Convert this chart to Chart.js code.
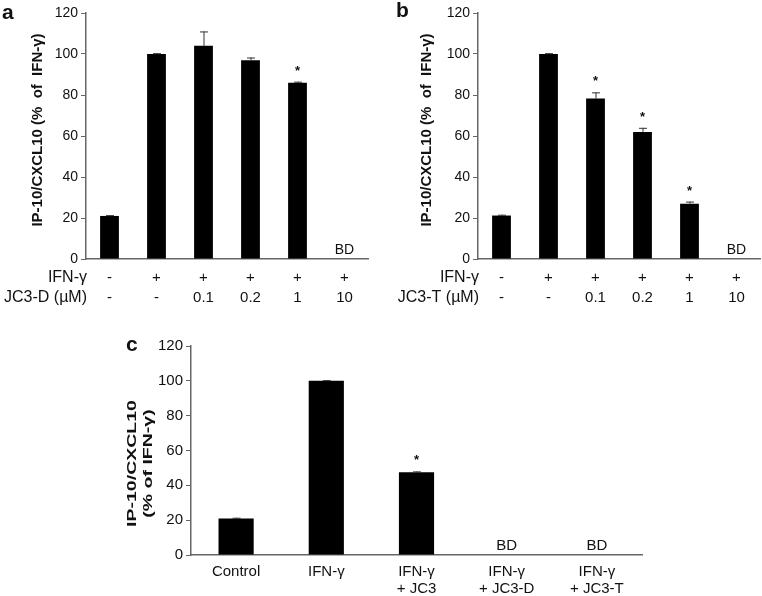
<!DOCTYPE html>
<html>
<head>
<meta charset="utf-8">
<script src="https://cdn.jsdelivr.net/npm/chart.js@4.4.1/dist/chart.umd.min.js"></script>
<style>
  body { margin: 0; background: #fff; width: 762px; height: 596px; position: relative; overflow: hidden;
         font-family: "Liberation Sans", Arial, sans-serif; }
  .panel { position: absolute; }
  .letter { position: absolute; font-weight: bold; font-size: 21px; line-height: 21px; color: #111; }
</style>
</head>
<body>
<div class="panel" style="left:0;top:0;width:380px;height:310px"><canvas id="chartA"></canvas></div>
<div class="panel" style="left:380px;top:0;width:382px;height:310px"><canvas id="chartB"></canvas></div>
<div class="panel" style="left:120px;top:330px;width:540px;height:266px"><canvas id="chartC"></canvas></div>
<div class="letter" style="left:2px;top:1px">a</div>
<div class="letter" style="left:396px;top:-1px">b</div>
<div class="letter" style="left:126px;top:333px">c</div>
<script>
// panels a and b: six conditions
const conditionsAB = ['Control', 'IFN-γ', '0.1 µM', '0.2 µM', '1 µM', '10 µM'];
const ifnRow = ['-', '+', '+', '+', '+', '+'];
const doseRow = ['-', '-', '0.1', '0.2', '1', '10'];

const valuesA = [21, 100, 104, 97, 86, null];
const errorsA = [0.4, 0.4, 7, 1.3, 0.5, 0];
const starsA = [false, false, false, false, true, false];

const valuesB = [21.2, 100, 78.3, 62, 27, null];
const errorsB = [0.4, 0.4, 3, 2, 1, 0];
const starsB = [false, false, true, true, true, false];

// panel c
const labelsC = [['Control'], ['IFN-γ'], ['IFN-γ', '+ JC3'], ['IFN-γ', '+ JC3-D'], ['IFN-γ', '+ JC3-T']];
const valuesC = [21, 100, 47.5, null, null];
const errorsC = [0.4, 0.4, 0.5, 0, 0];
const starsC = [false, false, true, false, false];

const yMin = 0, yMax = 120, yStep = 20;

Chart.defaults.font.family = '"Liberation Sans", Arial, sans-serif';
Chart.defaults.color = '#111';

const FONT = '"Liberation Sans", Arial, sans-serif';
const AXIS = '#666';

// error bars, stars, BD text, y titles and the +/- rows under the axis
const annot = {
    id: 'annot',
    afterDatasetsDraw(chart, args, opts) {
        const ctx = chart.ctx;
        const x = chart.scales.x, y = chart.scales.y;
        const area = chart.chartArea;
        const vals = chart.data.datasets[0].data;
        ctx.save();
        ctx.fillStyle = '#111';
        vals.forEach((v, i) => {
            const cx = x.getPixelForValue(i);
            if (v == null) {
                ctx.font = opts.bdFont;
                ctx.textAlign = 'center';
                ctx.textBaseline = 'alphabetic';
                ctx.fillText('BD', cx, y.getPixelForValue(0) - 5);
                return;
            }
            const top = y.getPixelForValue(v);
            const hi = y.getPixelForValue(v + opts.errors[i]);
            ctx.strokeStyle = '#333';
            ctx.lineWidth = 1;
            ctx.beginPath();
            ctx.moveTo(cx + 0.5, top);
            ctx.lineTo(cx + 0.5, hi);
            ctx.moveTo(cx - 3.5, hi + 0.5);
            ctx.lineTo(cx + 4.5, hi + 0.5);
            ctx.stroke();
            if (opts.stars[i]) {
                ctx.font = 'bold 13px ' + FONT;
                ctx.textAlign = 'center';
                ctx.textBaseline = 'alphabetic';
                ctx.fillText('*', cx, hi - 7);
            }
        });
        if (opts.rows) {
            ctx.textBaseline = 'middle';
            opts.rows.forEach(row => {
                ctx.font = '16px ' + FONT;
                ctx.textAlign = 'right';
                ctx.fillText(row.name, area.left + 1, row.y);
                ctx.font = '15px ' + FONT;
                ctx.textAlign = 'center';
                row.cells.forEach((t, i) => ctx.fillText(t, x.getPixelForValue(i), row.y));
            });
        }
        // rotated y title, stretched along its length like the figure
        const t = opts.title;
        ctx.font = t.font;
        ctx.textAlign = 'center';
        ctx.textBaseline = 'middle';
        t.lines.forEach((line, k) => {
            ctx.save();
            ctx.translate(area.left + t.dx + k * t.gap, (area.top + area.bottom) / 2 + t.dy);
            ctx.rotate(-Math.PI / 2);
            ctx.scale(t.stretch, 1);
            ctx.fillText(line, 0, 0);
            ctx.restore();
        });
        ctx.restore();
    }
};

function yScale(tickSize, width) {
    return {
        min: yMin, max: yMax,
        ticks: { stepSize: yStep, font: { size: tickSize }, color: '#111', padding: 3 },
        grid: { drawOnChartArea: false, drawTicks: true, tickLength: 5, color: AXIS, lineWidth: 1 },
        border: { color: AXIS, width: 1.5 },
        afterFit(s) { s.width = width; }
    };
}

function panelAB(id, values, errors, stars, doseName, padLeft, padRight, titleDx) {
    new Chart(document.getElementById(id), {
        type: 'bar',
        data: {
            labels: conditionsAB,
            datasets: [{ data: values, backgroundColor: '#000', borderWidth: 0,
                         barPercentage: 0.4, categoryPercentage: 1.0 }]
        },
        options: {
            responsive: true, maintainAspectRatio: false, animation: false,
            layout: { padding: { left: padLeft, right: padRight, top: 13, bottom: 0 } },
            scales: {
                x: {
                    ticks: { display: false },
                    grid: { display: false, drawTicks: false },
                    border: { color: AXIS, width: 1.5 },
                    afterFit(s) { s.height = 51; }
                },
                y: yScale(14, 56)
            },
            plugins: {
                legend: { display: false }, tooltip: { enabled: false },
                annot: {
                    errors: errors, stars: stars,
                    bdFont: '14px ' + FONT,
                    title: { lines: ['IP-10/CXCL10 (%  of  IFN-γ)'], font: 'bold 14px ' + FONT,
                             dx: titleDx, dy: -6, gap: 0, stretch: 1.07 },
                    rows: [
                        { name: 'IFN-γ', y: 278, cells: ifnRow },
                        { name: doseName, y: 298, cells: doseRow }
                    ]
                }
            }
        },
        plugins: [annot]
    });
}

panelAB('chartA', valuesA, errorsA, starsA, 'JC3-D (µM)', 30, 12, -48);
panelAB('chartB', valuesB, errorsB, starsB, 'JC3-T (µM)', 42, 2, -51);

new Chart(document.getElementById('chartC'), {
    type: 'bar',
    data: {
        labels: labelsC,
        datasets: [{ data: valuesC, backgroundColor: '#000', borderWidth: 0,
                     barPercentage: 0.39, categoryPercentage: 1.0 }]
    },
    options: {
        responsive: true, maintainAspectRatio: false, animation: false,
        layout: { padding: { left: 3, right: 18, top: 16, bottom: 0 } },
        scales: {
            x: {
                ticks: { font: { size: 15, lineHeight: 1.15 }, color: '#111', padding: 8, maxRotation: 0, autoSkip: false },
                grid: { display: false, drawTicks: false },
                border: { color: AXIS, width: 1.5 },
                afterFit(s) { s.height = 41; }
            },
            y: yScale(15, 68)
        },
        plugins: {
            legend: { display: false }, tooltip: { enabled: false },
            annot: {
                errors: errorsC, stars: starsC, bdFont: '15px ' + FONT,
                title: { lines: ['IP-10/CXCL10', '(% of IFN-γ)'], font: 'bold 13px ' + FONT,
                         dx: -59, dy: 13, gap: 16, stretch: 1.5 }
            }
        }
    },
    plugins: [annot]
});
</script>
</body>
</html>
